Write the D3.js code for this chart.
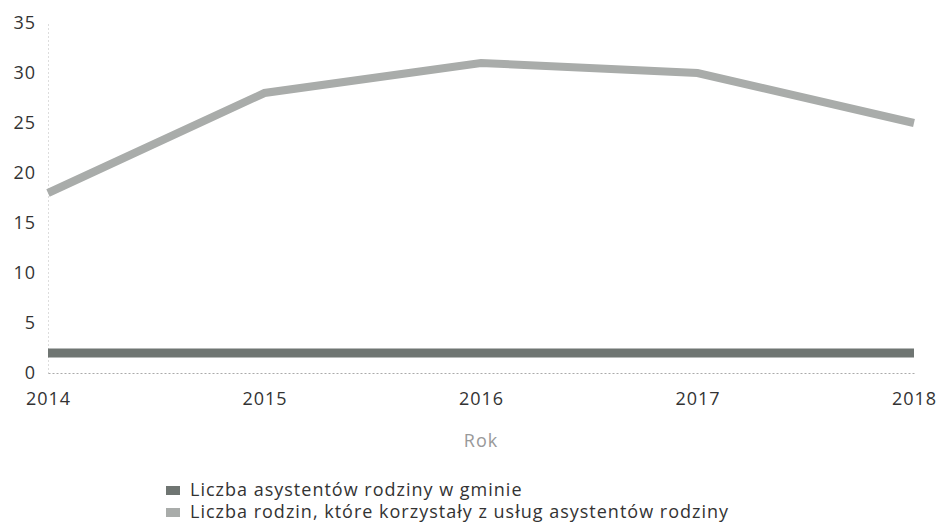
<!DOCTYPE html>
<html><head><meta charset="utf-8">
<script src="https://cdn.jsdelivr.net/npm/d3@7"></script>
<style>body{margin:0;background:#fff;} text{font-family:"Open Sans",sans-serif;}</style>
</head><body>
<svg id="chart" width="940" height="526"></svg>
<script>
const years = [2014, 2015, 2016, 2017, 2018];
const seriesNames = ["Liczba asystentów rodziny w gminie", "Liczba rodzin, które korzystały z usług asystentów rodziny"];
const assistants = [2, 2, 2, 2, 2];
const families = [18, 28, 31, 30, 25];
const yTicks = [0, 5, 10, 15, 20, 25, 30, 35];
const colors = ["#6f7572", "#a9acaa"];

const svg = d3.select("#chart");
const x = d3.scaleLinear().domain([2014, 2018]).range([48, 914]);
const y = d3.scaleLinear().domain([0, 35]).range([373, 23]);

// axes
const yAxis = svg.append("g").attr("transform", "translate(48,0)")
  .call(d3.axisLeft(y).tickValues(yTicks).tickSize(0).tickPadding(12));
yAxis.select(".domain").attr("stroke", "#bbb").attr("stroke-dasharray", "1,3");
yAxis.selectAll("text").attr("font-size", 18).attr("fill", "#333").attr("font-family", "Open Sans").attr("letter-spacing", 1);

const xAxis = svg.append("g").attr("transform", "translate(0,373)")
  .call(d3.axisBottom(x).tickValues(years).tickFormat(d3.format("d")).tickSize(0).tickPadding(19));
xAxis.select(".domain").attr("stroke", "#aaa").attr("stroke-dasharray", "2,2");
xAxis.selectAll("text").attr("font-size", 18).attr("fill", "#333").attr("font-family", "Open Sans").attr("letter-spacing", 1);

svg.append("text").attr("x", x(2016)).attr("y", 447).attr("text-anchor", "middle")
  .attr("font-size", 18).attr("letter-spacing", 1).attr("fill", "#999").text("Rok");

const line = d3.line().x((d, i) => x(years[i])).y(d => y(d)).curve(d3.curveLinear);
[assistants, families].forEach((s, k) => {
  svg.append("path").datum(s).attr("d", line).attr("fill", "none")
    .attr("stroke", colors[k]).attr("stroke-width", k === 0 ? 9 : 8)
    .attr("stroke-linecap", "butt").attr("stroke-linejoin", "miter");
});

// legend
const lg = svg.append("g");
seriesNames.forEach((n, i) => {
  const yy = 490 + i * 22;
  lg.append("rect").attr("x", 166).attr("y", yy - 4).attr("width", 14).attr("height", 9).attr("fill", colors[i]);
  lg.append("text").attr("x", 190).attr("y", yy + 6).attr("font-size", 18).attr("letter-spacing", 1)
    .attr("fill", "#333").text(n);
});
</script>
</body></html>
